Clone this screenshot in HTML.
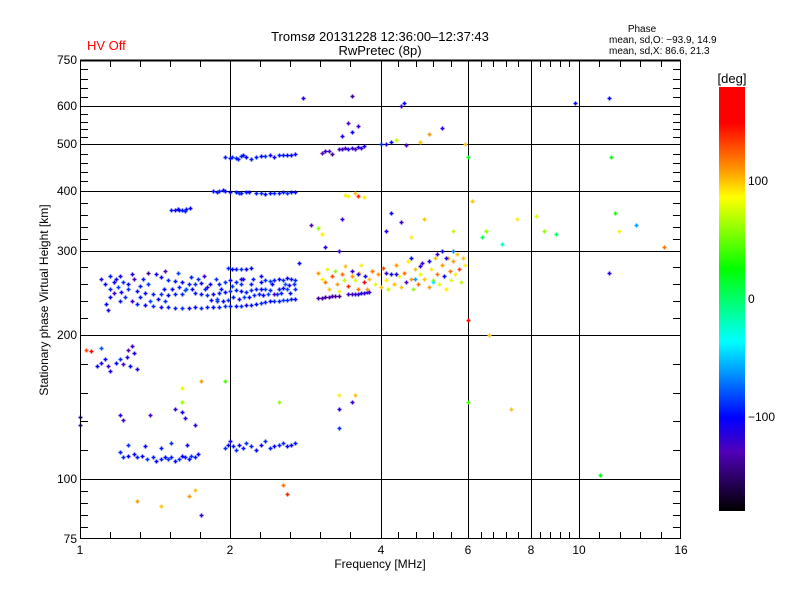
<!DOCTYPE html>
<html><head><meta charset="utf-8">
<style>
html,body{margin:0;padding:0;background:#fff;}
svg{display:block;font-family:"Liberation Sans",sans-serif;}
</style></head>
<body>
<svg id="chart" width="800" height="600" viewBox="0 0 800 600" xmlns="http://www.w3.org/2000/svg">
  <defs>
    <linearGradient id="cbar" x1="0" y1="0" x2="0" y2="1">
      <stop offset="0" stop-color="#ff0000"/>
      <stop offset="0.085" stop-color="#ff0000"/>
      <stop offset="0.19" stop-color="#ff9000"/>
      <stop offset="0.26" stop-color="#ffff00"/>
      <stop offset="0.43" stop-color="#00ff00"/>
      <stop offset="0.60" stop-color="#00ffff"/>
      <stop offset="0.78" stop-color="#0000ff"/>
      <stop offset="0.86" stop-color="#5000b8"/>
      <stop offset="1" stop-color="#000000"/>
    </linearGradient>
  </defs>
  <text x="87" y="50" font-size="13" fill="#ff0000">HV Off</text>
  <text x="380" y="41" font-size="13" text-anchor="middle">Tromsø 20131228 12:36:00–12:37:43</text>
  <text x="380" y="55" font-size="13" text-anchor="middle">RwPretec (8p)</text>
  <text x="642" y="32" font-size="10" text-anchor="middle">Phase</text>
  <text x="609" y="43" font-size="10">mean, sd,O: −93.9, 14.9</text>
  <text x="609" y="54" font-size="10">mean, sd,X:  86.6, 21.3</text>
  <g id="grid"></g>
  <g id="marks"></g>
  <g id="axes"></g>
  <text x="48" y="300" font-size="12" text-anchor="middle" transform="rotate(-90 48 300)">Stationary phase Virtual Height [km]</text>
  <text x="380" y="568" font-size="12" text-anchor="middle">Frequency [MHz]</text>
  <rect x="719" y="87" width="26" height="424" fill="url(#cbar)"/>
  <text x="732" y="83" font-size="13" text-anchor="middle">[deg]</text>
  <g id="cbticks"></g>
</svg>
<script>
// ---- data ----
var xTickLabels = [1, 2, 4, 6, 8, 10, 16];
var yTickLabels = [75, 100, 200, 300, 400, 500, 600, 750];
var xGridValues = [2, 4, 6, 8, 10];
var yGridValues = [100, 200, 300, 400, 500, 600];
var colorbarLabels = [100, 0, -100];

var freqs = [
1.20,1.22,1.25,1.28,1.30,1.33,1.36,1.40,1.42,1.45,1.48,1.50,1.52,1.55,1.58,1.60,1.62,1.65,1.67,1.70,1.72,1.25,1.35,1.45,1.52,1.64,
1.95,1.98,2.00,2.03,2.05,2.08,2.12,2.15,2.20,2.25,2.30,2.35,2.40,2.45,2.50,2.55,2.60,2.65,2.70,
1.08,1.10,1.12,1.14,1.15,1.18,1.20,1.22,1.24,1.25,1.27,1.28,1.26,1.30,1.10,1.03,
1.00,1.20,1.22,1.38,1.55,1.60,1.62,1.70,1.00,
1.30,1.35,1.40,1.45,1.50,1.55,1.60,1.65,1.70,1.75,1.80,1.85,1.90,1.95,2.00,2.05,2.10,2.15,2.20,2.25,2.30,2.35,2.40,2.45,2.50,2.55,2.60,2.65,2.70,
3.00,3.05,3.10,3.15,3.20,3.25,3.30,3.45,3.50,3.55,3.60,3.65,3.70,3.75,3.80,
1.25,1.30,1.35,1.40,1.45,1.50,1.55,1.60,1.70,1.75,1.80,1.85,1.90,1.95,2.00,2.05,2.10,2.15,2.20,2.25,2.30,2.35,2.40,2.50,2.55,2.60,2.70,
1.18,1.20,1.22,1.25,1.28,1.32,1.42,1.45,1.50,1.55,1.60,1.65,1.70,1.75,1.82,1.90,1.95,2.00,2.05,2.10,2.20,2.30,2.35,2.40,2.45,2.50,2.55,2.60,2.65,2.70,
1.98,2.02,2.05,2.10,2.15,2.20,
1.10,1.12,1.15,1.15,1.13,1.14,1.17,1.20,1.37,1.48,1.62,1.80,1.88,2.10,2.30,2.45,2.62,2.75,
3.00,3.05,3.10,3.12,3.15,3.20,3.25,3.28,3.30,3.35,3.38,3.40,3.45,3.50,3.50,3.55,3.60,3.62,3.65,3.70,3.72,3.75,3.80,3.85,3.90,3.95,4.00,4.05,4.10,4.15,4.20,4.25,4.30,4.35,4.40,4.45,4.50,4.55,4.60,4.65,4.70,4.75,4.80,4.85,4.90,5.00,5.05,5.10,5.15,5.20,5.25,5.30,5.35,5.40,5.45,5.50,5.55,5.60,5.65,5.70,5.75,5.80,5.85,5.90,
4.10,4.30,4.60,4.80,5.00,5.20,5.40,3.60,4.70,5.10,5.60,
3.40,3.45,3.55,3.60,3.70,2.90,3.00,3.05,3.35,3.10,3.30,4.10,4.20,4.40,4.60,4.90,5.30,5.60,
1.85,1.90,1.95,2.00,2.05,2.10,2.15,2.30,2.40,2.50,2.60,2.70,1.55,1.58,1.60,1.63,1.66,
1.95,2.00,2.05,2.10,2.15,2.20,2.30,2.40,2.50,2.60,2.70,
3.05,3.10,3.15,3.20,3.30,3.35,3.40,3.45,3.50,3.55,3.60,3.65,3.70,
3.35,3.50,3.60,3.45,4.00,4.10,4.20,4.30,4.50,4.80,5.00,5.30,4.40,4.45,3.50,2.80,9.80,11.5,
6.00,6.10,6.50,7.50,6.40,7.00,8.20,8.50,9.00,11.5,11.8,12.0,13.0,14.8,11.6,6.00,5.90,6.60,7.30,6.00,11.0,
1.30,1.45,1.65,1.75,1.70,2.55,2.60,1.05,1.60,1.60,1.75,1.95,3.30,3.30,3.50,3.55,3.30,2.50,
1.15,1.17,1.19,1.21,1.23,1.27,1.32,1.38,1.43,1.48,1.53,1.58,1.63,1.68,1.72,1.78,1.83,1.88,1.93,1.98,2.03,2.08,2.13,2.18,2.23,2.28,2.33,2.38,2.43,2.48,2.53,2.58,2.63,2.68,2.22,2.12,2.02,1.92,1.87,1.77,1.67,1.57,1.47,1.37,1.27,1.34,
1.88,1.93,2.08,2.18,2.25,2.35,2.45,2.55,2.65,2.02,2.07,2.12,2.25,2.35,2.45,2.55,2.65,1.52,1.57,1.62
];
var heights = [
114,111,112,113,111,112,110,111,109,110,111,110,111,109,110,112,111,110,112,111,113,118,117,116,119,118,
116,118,120,117,115,118,116,119,117,115,118,120,116,117,118,119,117,118,119,
172,175,178,172,168,175,178,174,180,186,190,183,172,170,188,186,
135,136,133,136,140,138,134,130,130,
232,231,230,229,229,228,228,228,229,228,229,229,229,230,230,230,230,231,231,232,233,234,235,236,236,237,237,238,238,
239,239,240,240,241,241,241,243,244,244,244,245,245,246,246,
250,247,245,243,243,242,243,244,245,243,242,244,245,246,247,248,247,246,248,249,250,249,248,249,251,250,249,
262,265,258,256,262,253,268,264,261,259,258,256,256,257,256,255,258,260,258,256,256,258,260,259,261,262,260,263,262,261,
276,275,275,274,275,276,
262,255,250,240,232,225,245,236,270,272,248,252,236,262,266,244,254,282,
270,262,258,275,250,266,272,255,247,268,260,278,253,265,272,260,250,270,280,258,266,250,262,272,255,268,252,276,260,250,268,256,280,265,252,270,258,285,262,250,275,255,268,283,262,252,275,260,290,268,255,280,265,250,290,272,260,285,268,295,275,258,290,280,
270,268,290,278,285,295,290,268,262,258,300,
392,390,395,390,388,340,335,325,350,305,300,330,360,345,320,350,300,330,
399,400,399,398,397,396,397,396,395,396,396,397,365,364,365,366,368,
470,468,469,473,470,467,472,474,475,476,477,
480,485,484,478,490,488,491,489,492,490,494,492,495,
520,530,545,555,500,502,505,510,498,505,525,540,600,610,630,625,610,625,
215,380,330,350,320,310,355,330,325,270,360,330,340,305,470,470,500,200,140,145,102,
90,88,92,84,95,97,93,185,155,145,160,160,140,128,145,150,150,145,
265,258,252,246,240,236,240,236,238,236,250,252,250,250,262,250,237,238,236,237,240,238,240,240,242,243,242,244,255,243,245,256,245,255,262,262,253,250,262,266,264,270,250,256,268,262,
398,401,396,398,395,394,396,397,398,471,466,474,470,473,471,474,475,365,367,363
];
var phases = [
-95,-90,-100,-105,-95,-100,-90,-95,-105,-95,-100,-90,-95,-100,-90,-105,-95,-100,-90,-95,-100,-90,-105,-95,-90,-100,
-90,-100,-105,-95,-90,-100,-95,-90,-95,-100,-105,-90,-95,-100,-95,-90,-100,-105,-95,
-100,-110,-100,-120,-110,-100,-90,-120,-110,-130,-120,-110,-100,-110,-80,130,
-100,-115,-125,-125,-115,-105,-115,-115,-95,
-95,-100,-90,-105,-95,-95,-90,-105,-100,-90,-95,-100,-95,-90,-95,-100,-90,-105,-95,-100,-90,-95,-100,-90,-95,-85,-90,-95,-100,
-140,-135,-140,-130,-140,-135,-140,-120,-125,-115,-120,-110,-120,-115,-120,
-90,-100,-105,-95,-90,-100,-95,-90,-95,-100,-90,-105,-95,-100,-90,-95,-100,-95,-90,-95,-100,-85,-90,-95,-100,-85,-90,
-100,-110,-90,-100,-125,-95,-110,-100,-90,-95,-100,-95,-90,-105,-100,-95,-90,-100,-95,-90,-95,-100,-90,-85,-95,-100,-90,-105,-95,-90,
-90,-100,-95,-90,-105,-100,
-110,-100,-95,-105,-100,-110,-125,-95,-140,-130,-80,-120,-90,-110,-100,-130,-110,-100,
110,90,120,80,100,130,60,110,90,120,70,100,140,110,-120,80,120,100,90,150,-110,110,100,120,80,110,100,130,90,70,-100,100,110,80,100,120,-130,90,110,60,100,120,80,-120,100,110,90,60,100,120,80,110,-100,90,100,120,80,110,90,100,130,70,100,90,
-120,-110,-100,-120,-110,-120,-110,-110,-60,-40,-70,
90,80,100,140,90,-130,60,90,-120,-110,-120,-110,-100,-120,90,100,-100,70,
-100,-95,-100,-105,-95,-100,-95,-90,-100,-95,-90,-100,-110,-100,-95,-105,-100,
-95,-100,-95,-90,-100,-95,-100,-105,-95,-100,-105,
-130,-120,-130,-140,-120,-125,-130,-110,-120,-130,-110,-120,-110,
-110,-100,-120,-130,-90,-110,-100,70,-130,100,110,-110,-120,-100,-140,-110,-100,-100,
150,100,60,90,0,-20,80,60,0,-110,30,90,-60,120,20,20,100,100,100,40,20,
110,100,110,-120,100,120,140,150,80,60,110,40,-110,-90,-120,100,90,60,
-95,-105,-85,-100,-90,-120,-95,-85,-100,-90,-105,-95,-80,-100,-90,-95,-105,-85,-100,-90,-95,-110,-85,-100,-90,-95,-105,-85,-100,-90,-95,-80,-100,-90,-95,-105,-85,-100,-90,-120,-95,-85,-100,-90,-110,-95,
-95,-100,-90,-105,-95,-100,-90,-95,-100,-90,-95,-100,-95,-90,-105,-95,-100,-95,-100,-90
];

// ---- axes ----
var PX0 = 80, PX1 = 681, PY0 = 60, PY1 = 539;
function xScale(f){ return PX0 + (PX1 - PX0) * Math.log(f) / Math.log(16); }
function yScale(h){ return PY1 - (PY1 - PY0) * Math.log(h / 75) / Math.log(10); }
var NS = "http://www.w3.org/2000/svg";
function mk(tag, attrs, parent){
  var e = document.createElementNS(NS, tag);
  for (var k in attrs) e.setAttribute(k, attrs[k]);
  parent.appendChild(e);
  return e;
}
var colorStops = [[180,[255,0,0]],[149,[255,0,0]],[112,[255,144,0]],[86,[255,255,0]],[25,[0,255,0]],[-36,[0,255,255]],[-101,[0,0,255]],[-130,[80,0,184]],[-180,[0,0,0]]];
function phaseColor(v){
  if (v >= 180) return "rgb(255,0,0)";
  for (var i = 0; i < colorStops.length - 1; i++){
    var a = colorStops[i], b = colorStops[i+1];
    if (v <= a[0] && v >= b[0]){
      var t = (a[0] - v) / (a[0] - b[0]);
      var c = a[1].map(function(ch, j){ return Math.round(ch + (b[1][j] - ch) * t); });
      return "rgb(" + c.join(",") + ")";
    }
  }
  return "rgb(0,0,0)";
}

var grid = document.getElementById("grid");
xGridValues.forEach(function(v){
  var gx = Math.round(xScale(v)) + 0.5;
  var l = mk("line", {x1: gx, y1: PY0, x2: gx, y2: PY1, stroke: "#000", "stroke-width": 1}, grid);
  
  
});
yGridValues.forEach(function(v){
  var gy = Math.round(yScale(v)) + 0.5;
  var l = mk("line", {x1: PX0, y1: gy, x2: PX1, y2: gy, stroke: "#000", "stroke-width": 1}, grid);
  
  
});

var marks = document.getElementById("marks");
for (var i = 0; i < freqs.length; i++){
  var px = Math.round(xScale(freqs[i])) + 0.5, py = Math.round(yScale(heights[i])) + 0.5;
  var p = mk("path", {d: "M" + (px - 2) + " " + py + "h4M" + px + " " + (py - 2) + "v4", stroke: phaseColor(phases[i]), "stroke-width": 1.6, fill: "none"}, marks);
  
  
}

var axes = document.getElementById("axes");
var frame = mk("rect", {x: PX0 + 0.5, y: PY0 + 0.5, width: PX1 - PX0 - 1, height: PY1 - PY0 - 1, fill: "none", stroke: "#000", "stroke-width": 1}, axes);


var topLine = mk("line", {x1: PX0, y1: PY0 + 0.5, x2: PX1, y2: PY0 + 0.5, stroke: "#000", "stroke-width": 2}, axes);



for (var i = 0; i < xTickLabels.length; i++){
  var xp = xScale(xTickLabels[i]);
  var t = mk("text", {x: Math.round(xp), y: 554, "font-size": 12, "text-anchor": "middle"}, axes);
  t.textContent = xTickLabels[i];
  
  
  if (i < xTickLabels.length - 1){
    var xn = xScale(xTickLabels[i+1]);
    for (var k = 1; k < 5; k++){
      var mx = Math.round(xp + (xn - xp) * k / 5) + 0.5;
      var tb = mk("line", {x1: mx, y1: PY1, x2: mx, y2: PY1 - 7, stroke: "#000"}, axes);
      
      
      var tt = mk("line", {x1: mx, y1: PY0, x2: mx, y2: PY0 + 7, stroke: "#000"}, axes);
      
      
    }
  }
}
for (var i = 0; i < yTickLabels.length; i++){
  var yp = yScale(yTickLabels[i]);
  var t = mk("text", {x: 77, y: Math.round(yp) + 4, "font-size": 12, "text-anchor": "end"}, axes);
  t.textContent = yTickLabels[i];
  
  
  if (i < yTickLabels.length - 1){
    var yn = yScale(yTickLabels[i+1]);
    for (var k = 1; k < 5; k++){
      var my = Math.round(yp + (yn - yp) * k / 5) + 0.5;
      var tl = mk("line", {x1: PX0, y1: my, x2: PX0 + 8, y2: my, stroke: "#000"}, axes);
      
      
      var tr = mk("line", {x1: PX1, y1: my, x2: PX1 - 8, y2: my, stroke: "#000"}, axes);
      
      
    }
  }
}

var cb = document.getElementById("cbticks");
colorbarLabels.forEach(function(v){
  var cy = 87 + (180 - v) / 360 * 424;
  var t = mk("text", {x: 748, y: Math.round(cy) + 4, "font-size": 12}, cb);
  t.textContent = v < 0 ? "−" + Math.abs(v) : String(v);
  
  
});
</script>
</body></html>
